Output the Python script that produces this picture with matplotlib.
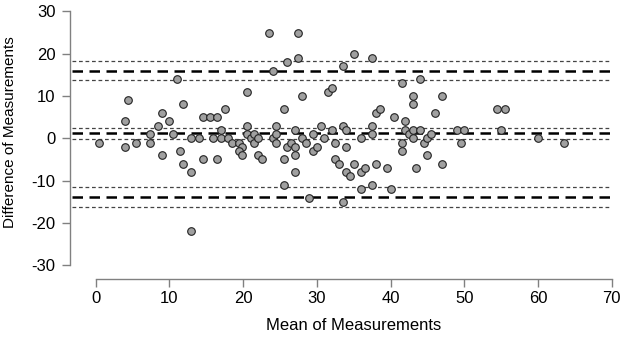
import matplotlib
matplotlib.use("Agg")
import matplotlib.pyplot as plt

# Means (x) and differences (y) of paired measurements
mean_vals = [0.5, 4.0, 4.4, 4.0, 5.5, 7.4, 7.4, 8.5, 9.0, 9.0, 9.9, 10.5, 11.0, 11.4, 11.9, 11.9,
             12.9, 12.9, 12.9, 14.0, 14.5, 14.5, 15.5, 15.9, 16.4, 16.4, 17.0, 17.0, 17.5, 18.0,
             18.5, 19.5, 19.9, 19.5, 19.9, 20.5, 20.5, 20.5, 21.0, 21.5, 21.5, 22.0, 22.0, 22.5,
             23.5, 24.0, 24.0, 24.5, 24.5, 24.5, 25.5, 25.5, 25.5, 26.0, 26.0, 26.5, 27.0, 27.0,
             27.0, 27.0, 27.5, 27.5, 28.0, 28.0, 28.5, 29.0, 29.5, 29.5, 30.0, 30.5, 31.0, 31.5,
             32.0, 32.0, 32.5, 32.5, 33.0, 33.5, 33.5, 33.5, 34.0, 34.0, 34.0, 34.5, 35.0, 35.0,
             36.0, 36.0, 36.0, 36.5, 37.5, 37.5, 37.5, 37.5, 38.0, 38.0, 38.5, 39.5, 40.0, 40.5,
             41.5, 41.5, 41.5, 42.0, 42.0, 42.5, 43.0, 43.0, 43.0, 43.0, 43.5, 44.0, 44.0, 44.5,
             45.0, 45.0, 45.5, 46.0, 47.0, 47.0, 49.0, 49.5, 50.0, 54.5, 55.5, 55.0, 60.0, 63.5]
diff_vals = [-1, 4, 9, -2, -1, 1, -1, 3, 6, -4, 4, 1, 14, -3, 8, -6,
             -8, 0, -22, 0, 5, -5, 5, 0, 5, -5, 2, 0, 7, 0,
             -1, -1, -2, -3, -4, 11, 3, 1, 0, 1, -1, 0, -4, -5,
             25, 16, 0, 3, 1, -1, 7, -5, -11, 18, -2, -1, 2, -2,
             -4, -8, 25, 19, 10, 0, -1, -14, 1, -3, -2, 3, 0, 11,
             12, 2, -1, -5, -6, 17, 3, -15, 2, -2, -8, -9, 20, -6,
             0, -8, -12, -7, 19, 3, 1, -11, 6, -6, 7, -7, -12, 5,
             13, -1, -3, 4, 2, 1, 10, 8, 2, 0, -7, 14, 2, -1,
             0, -4, 1, 6, 10, -6, 2, -1, 2, 7, 7, 2, 0, -1]

bias = 1.18
loa_upper = 16.0
loa_lower = -13.8
ci_lines = [18.3, 13.8, 2.5, -0.17, -11.6, -16.2]

x_ticks = [0, 10, 20, 30, 40, 50, 60, 70]
y_ticks = [-30, -20, -10, 0, 10, 20, 30]

plt.rcParams['font.family'] = ['Liberation Sans', 'DejaVu Sans']
plt.rcParams['axes.unicode_minus'] = False

W, H = 624, 338
fig = plt.figure(figsize=(W / 100, H / 100), dpi=100)
ax = fig.add_axes([71.7 / W, (H - 273.7) / H, 540 / W, 270.8 / H])
ax.set_xlim(-3.26, 70.0)
ax.set_ylim(-32, 32)

for v in ci_lines:
    ax.axhline(v, color='#444444', lw=0.9, dashes=(3, 2.2), zorder=1)
for v in [bias, loa_upper, loa_lower]:
    ax.axhline(v, color='black', lw=1.8, dashes=(4.2, 2.6), zorder=2)

ax.scatter(mean_vals, diff_vals, s=30, facecolor='#a0a0a0', edgecolor='#222222',
           linewidths=0.8, zorder=3)

for s in ['top', 'right']:
    ax.spines[s].set_visible(False)
ax.spines['left'].set_position(('outward', 1.2))
ax.spines['bottom'].set_position(('outward', 3.8))
ax.spines['left'].set_bounds(-30, 30)
ax.spines['bottom'].set_bounds(0, 70)
for s in ['left', 'bottom']:
    ax.spines[s].set_color('#808080')
    ax.spines[s].set_linewidth(1.0)

ax.set_xticks(x_ticks)
ax.set_yticks(y_ticks)
ax.tick_params(axis='both', colors='#808080', labelcolor='black', labelsize=12,
               length=5.5, width=1.0)
ax.tick_params(axis='x', pad=2.8)
ax.tick_params(axis='y', pad=5.0)

fig.text(353.5 / W, 1 - 326 / H, 'Mean of Measurements', ha='center', va='center', fontsize=12)
fig.text(10.5 / W, 1 - 132.5 / H, 'Difference of Measurements', ha='center', va='center',
         rotation=90, fontsize=11)

fig.savefig('out.png', dpi=100)
